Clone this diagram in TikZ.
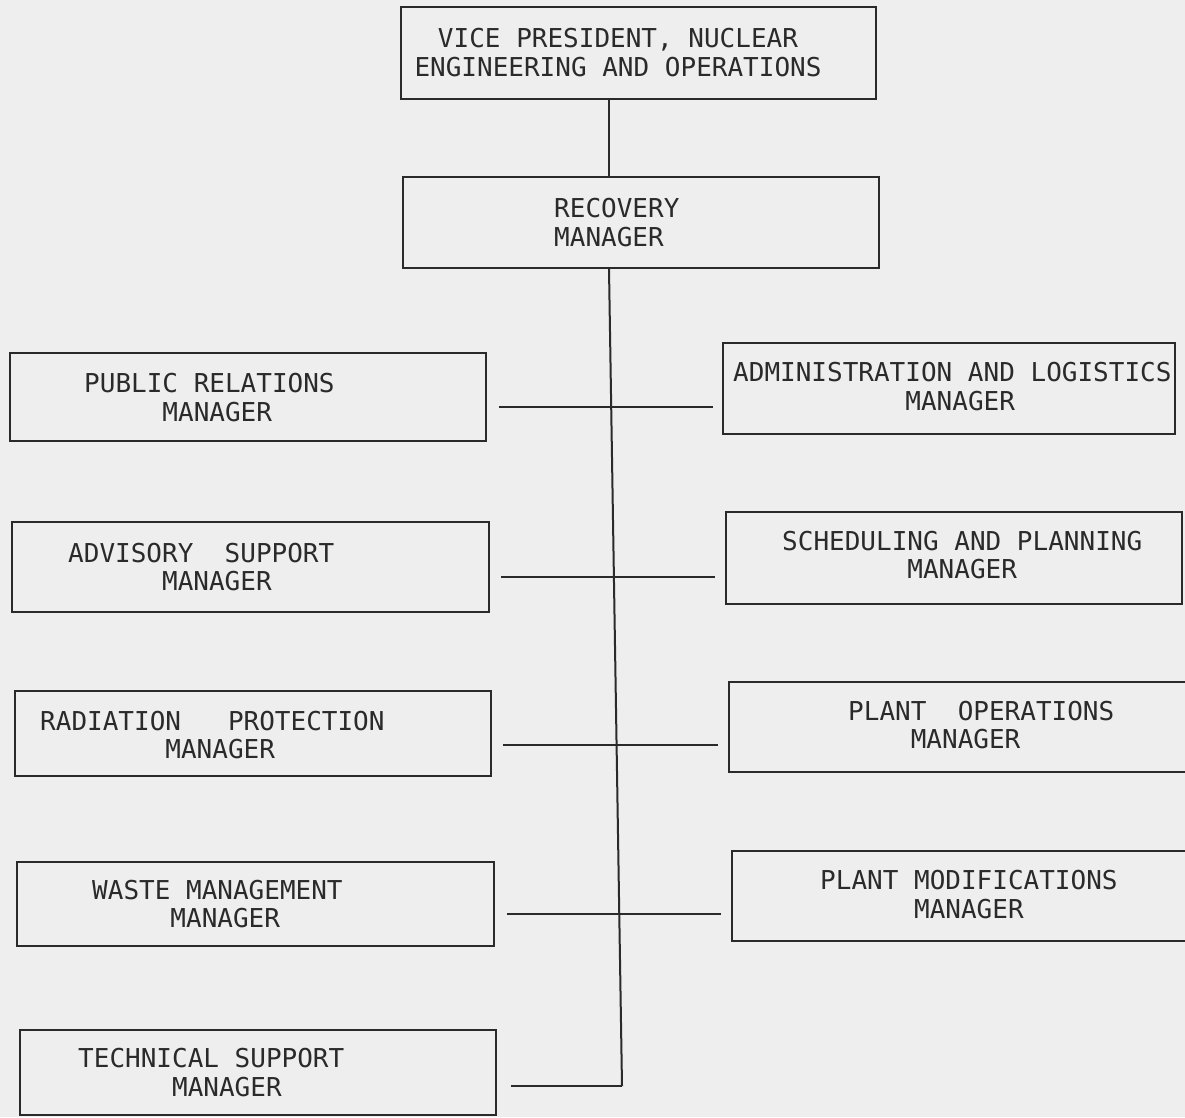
\documentclass[tikz,border=0pt]{standalone}
\usepackage{fontspec}
\setmonofont{DejaVu Sans Mono}
\definecolor{paper}{HTML}{EEEEEE}
\definecolor{ink}{HTML}{2A2A2A}
\begin{document}
\begin{tikzpicture}[x=1pt,y=-1pt,
  box/.style={draw=ink, line width=2pt, inner sep=0pt, rectangle},
  lbl/.style={text=ink, inner sep=0pt, align=left, anchor=west,
    font=\ttfamily\fontsize{26}{28.5}\selectfont},
  conn/.style={draw=ink, line width=2pt}]
\fill[paper] (0,0) rectangle (1185,1117);
\useasboundingbox (0,0) rectangle (1185,1117);
% boxes
\node[box, minimum width=475pt, minimum height=92pt] (vp)   at (638.5,53)   {};
\node[box, minimum width=476pt, minimum height=91pt] (rec)  at (641,222.5)  {};
\node[box, minimum width=476pt, minimum height=88pt] (pr)   at (248,397)    {};
\node[box, minimum width=477pt, minimum height=90pt] (adv)  at (250.5,567)  {};
\node[box, minimum width=476pt, minimum height=85pt] (rad)  at (253,733.5)  {};
\node[box, minimum width=477pt, minimum height=84pt] (wst)  at (255.5,904)  {};
\node[box, minimum width=476pt, minimum height=85pt] (tec)  at (258,1072.5) {};
\node[box, minimum width=452pt, minimum height=91pt] (adm)  at (949,388.5)  {};
\node[box, minimum width=456pt, minimum height=92pt] (sch)  at (954,558)    {};
\node[box, minimum width=466pt, minimum height=90pt] (ops)  at (962,727)    {};
\node[box, minimum width=463pt, minimum height=90pt] (mod)  at (963.5,896)  {};
% labels
\node[lbl, anchor=center, align=center] (vpt) at (618,52.5) {VICE PRESIDENT, NUCLEAR\\ENGINEERING AND OPERATIONS};
\node[lbl] (rect) at (554,222.5) {RECOVERY\\MANAGER};
\node[lbl] (prt)  at (84,397.5)  {PUBLIC RELATIONS\\\phantom{XXXXX}MANAGER};
\node[lbl] (advt) at (68,567)    {ADVISORY~~SUPPORT\\\phantom{XXXXXX}MANAGER};
\node[lbl] (radt) at (40,735)    {RADIATION~~~PROTECTION\\\phantom{XXXXXXXX}MANAGER};
\node[lbl] (wstt) at (92,904)    {WASTE MANAGEMENT\\\phantom{XXXXX}MANAGER};
\node[lbl] (tect) at (78,1072.5) {TECHNICAL SUPPORT\\\phantom{XXXXXX}MANAGER};
\node[lbl] (admt) at (733,386.5) {ADMINISTRATION AND LOGISTICS\\\phantom{XXXXXXXXXXX}MANAGER};
\node[lbl] (scht) at (782,555)   {SCHEDULING AND PLANNING\\\phantom{XXXXXXXX}MANAGER};
\node[lbl] (opst) at (848,725)   {PLANT~~OPERATIONS\\\phantom{XXXX}MANAGER};
\node[lbl] (modt) at (820,894.5) {PLANT MODIFICATIONS\\\phantom{XXXXXX}MANAGER};
% spine junctions
\coordinate (s0) at (609,99);
\coordinate (s1) at (613,407);
\coordinate (s2) at (615.3,577);
\coordinate (s3) at (617.5,745);
\coordinate (s4) at (619.7,914);
\coordinate (s5) at (622,1086);
% connectors
\draw[conn] (vp.south -| s0) -- (rec.north -| s0);
\draw[conn] (rec.south -| s0) -- (s5);
\draw[conn] ([xshift=12pt]pr.east |- s1) -- (s1) -- ([xshift=-9pt]adm.west |- s1);
\draw[conn] ([xshift=11pt]adv.east |- s2) -- (s2) -- ([xshift=-10pt]sch.west |- s2);
\draw[conn] ([xshift=11pt]rad.east |- s3) -- (s3) -- ([xshift=-10pt]ops.west |- s3);
\draw[conn] ([xshift=12pt]wst.east |- s4) -- (s4) -- ([xshift=-10pt]mod.west |- s4);
\draw[conn] ([xshift=14pt]tec.east |- s5) -- (s5);
\end{tikzpicture}
\end{document}
